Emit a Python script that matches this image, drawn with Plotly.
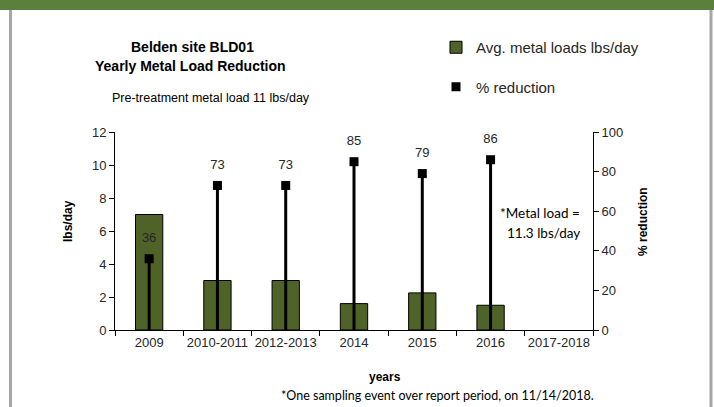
import plotly.graph_objects as go

# Reporting periods and measured values
periods = ["2009", "2010-2011", "2012-2013", "2014", "2015", "2016", "2017-2018"]
avg_load_lbs_day = [7.0, 3.0, 3.0, 1.6, 2.25, 1.5, None]
pct_reduction = [36, 73, 73, 85, 79, 86, None]
pct_labels = ["36", "73", "73", "85", "79", "86", ""]

load_ticks = [0, 2, 4, 6, 8, 10, 12]
pct_ticks = [0, 20, 40, 60, 80, 100]

ARIAL = "Liberation Sans, Arial, sans-serif"
CALIBRI = "Lato, Carlito, Calibri, sans-serif"
TXT = "#262626"

W, H = 714, 407
L, R, T, B = 115, 121, 132, 77
PW, PH = W - L - R, H - T - B


def px_x(x):
    return (x - L) / PW


def px_y(y):
    return (H - B - y) / PH


fig = go.Figure()

fig.add_trace(go.Bar(
    x=periods, y=avg_load_lbs_day,
    name="Avg. metal loads lbs/day",
    marker=dict(color="#4f6228", line=dict(color="#000000", width=1)),
    width=0.4,
    legendgroup="a",
))

# drop lines from each reduction point down to zero
fig.add_trace(go.Scatter(
    x=periods, y=pct_reduction, yaxis="y2",
    mode="markers",
    name="% reduction",
    marker=dict(symbol="square", size=9, color="#000000"),
    error_y=dict(type="data", symmetric=False,
                 array=[0] * len(periods),
                 arrayminus=[v if v is not None else 0 for v in pct_reduction],
                 color="#000000", thickness=3, width=0),
    legendgroup="b",
))

# value labels; the hidden marker sets the offset above each point
fig.add_trace(go.Scatter(
    x=periods, y=pct_reduction, yaxis="y2",
    mode="markers+text", text=pct_labels, textposition="top center",
    marker=dict(size=20, opacity=0),
    textfont=dict(family=ARIAL, size=13, color=TXT),
    showlegend=False, hoverinfo="skip",
))

annotations = [
    dict(text="<b>Belden site BLD01</b>", x=px_x(192), y=px_y(47),
         font=dict(size=14)),
    dict(text="<b>Yearly Metal Load Reduction</b>", x=px_x(190), y=px_y(66),
         font=dict(size=14)),
    dict(text="Pre-treatment metal load 11 lbs/day", x=px_x(211), y=px_y(98),
         font=dict(size=12.5)),
    dict(text="*Metal load =", x=px_x(540), y=px_y(213),
         font=dict(family=CALIBRI, size=13.5)),
    dict(text="11.3 lbs/day", x=px_x(543), y=px_y(233),
         font=dict(family=CALIBRI, size=13.5)),
    dict(text="<b>lbs/day</b>", x=px_x(68), y=px_y(221), textangle=-90,
         font=dict(size=12)),
    dict(text="<b>% reduction</b>", x=px_x(643), y=px_y(222), textangle=-90,
         font=dict(size=12)),
    dict(text="<b>years</b>", x=px_x(385), y=px_y(377),
         font=dict(size=12)),
    dict(text="*One sampling event over report period, on 11/14/2018.",
         x=px_x(437), y=px_y(395), font=dict(family=CALIBRI, size=12.5)),
]
for a in annotations:
    a.setdefault("xref", "paper")
    a.setdefault("yref", "paper")
    a["showarrow"] = False
    a["xanchor"] = "center"
    a["yanchor"] = "middle"
    f = a["font"]
    f.setdefault("family", ARIAL)
    f.setdefault("color", "#000000")

# page frame: green header band and grey side rules
shapes = [
    dict(type="rect", xref="paper", yref="paper",
         x0=px_x(0), x1=px_x(W), y0=px_y(10), y1=px_y(0),
         fillcolor="#5a803c", line=dict(width=0), layer="below"),
    dict(type="line", xref="paper", yref="paper",
         x0=px_x(10.5), x1=px_x(10.5), y0=px_y(10), y1=px_y(H),
         line=dict(color="#a6a6a6", width=3)),
    dict(type="line", xref="paper", yref="paper",
         x0=px_x(711), x1=px_x(711), y0=px_y(10), y1=px_y(H),
         line=dict(color="#a6a6a6", width=3)),
]

axis_common = dict(
    showgrid=False, zeroline=False, showline=True,
    linecolor="#000000", linewidth=1,
    ticks="outside", ticklen=5, tickcolor="#000000", tickwidth=1,
    tickfont=dict(family=ARIAL, size=13, color=TXT),
)

fig.update_layout(
    width=W, height=H,
    margin=dict(l=L, r=R, t=T, b=B, pad=0),
    paper_bgcolor="#ffffff", plot_bgcolor="#ffffff",
    font=dict(family=ARIAL, color=TXT),
    xaxis=dict(axis_common, type="category", range=[-0.5, 6.5],
               tickson="boundaries", tickangle=0),
    yaxis=dict(axis_common, range=[0, 12], tickvals=load_ticks),
    yaxis2=dict(axis_common, range=[0, 100], tickvals=pct_ticks,
                overlaying="y", side="right"),
    showlegend=True,
    legend=dict(x=px_x(436), y=px_y(31), xanchor="left", yanchor="top",
                bgcolor="rgba(0,0,0,0)", font=dict(family=ARIAL, size=15, color=TXT),
                traceorder="grouped", tracegroupgap=17, itemwidth=30),
    annotations=annotations,
    shapes=shapes,
)

fig.write_html("out.html")
